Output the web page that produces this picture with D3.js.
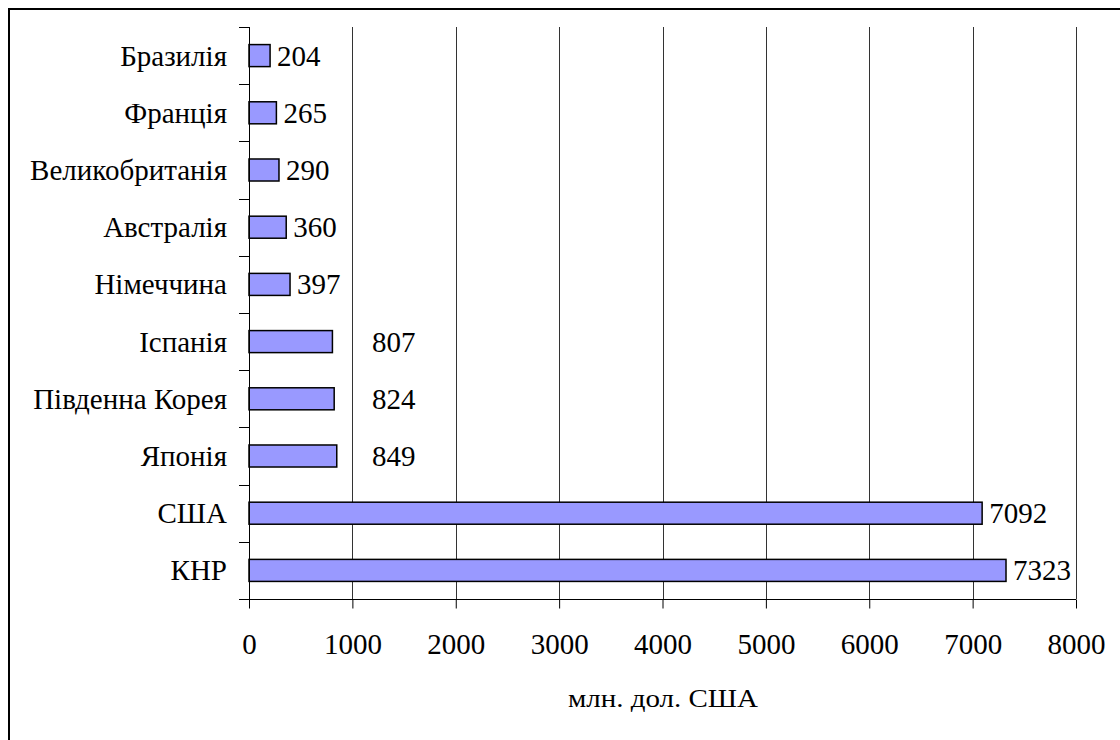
<!DOCTYPE html>
<html><head><meta charset="utf-8">
<script src="https://cdn.jsdelivr.net/npm/d3@7"></script>
</head><body style="margin:0"><svg id="c" width="1120" height="740"></svg>
<script>
const categories = ["Бразилія","Франція","Великобританія","Австралія","Німеччина","Іспанія","Південна Корея","Японія","США","КНР"];
const values = [204,265,290,360,397,807,824,849,7092,7323];
const xTicks = [0,1000,2000,3000,4000,5000,6000,7000,8000];
const xTitle = "млн. дол. США";

const FONT = "Liberation Serif";
const FS = 29;
const svg = d3.select("#c").attr("font-family",FONT);
svg.append("rect").attr("x",9).attr("y",9).attr("width",1130).attr("height",760)
  .attr("fill","none").attr("stroke","#000").attr("stroke-width",2);

const L=249, R=1076, T=27, B=599;
const x = d3.scaleLinear().domain([0,8000]).range([L,R]);
const y = d3.scaleBand().domain(categories).range([T,B]).paddingInner(0.615).paddingOuter(0.3075);
const band = d3.scaleBand().domain(categories).range([T,B]);

// gridlines
svg.append("g").selectAll("line").data(xTicks.slice(1)).join("line")
  .attr("x1",d=>Math.round(x(d))+0.5).attr("x2",d=>Math.round(x(d))+0.5)
  .attr("y1",T).attr("y2",B).attr("stroke","#333").attr("stroke-width",1);

// bars
svg.append("g").selectAll("rect").data(categories).join("rect")
  .attr("x",x(0)).attr("y",(d,i)=>y(d))
  .attr("width",(d,i)=>x(values[i])-x(0)).attr("height",y.bandwidth())
  .attr("fill","#9999ff").attr("stroke","#000").attr("stroke-width",1.5);

// x axis
const xa = svg.append("g").attr("transform",`translate(0,${B+0.5})`)
  .call(d3.axisBottom(x).tickValues(xTicks).tickSize(9).tickPadding(25).tickFormat(d3.format("d")));
xa.attr("font-family",FONT).attr("font-size",FS);
xa.select(".domain").remove();
xa.selectAll(".tick line").attr("stroke","#000");
xa.selectAll("text").attr("fill","#000").attr("font-family",FONT);
svg.append("line").attr("x1",239).attr("x2",R).attr("y1",B+0.5).attr("y2",B+0.5).attr("stroke","#000");

// y axis
svg.append("line").attr("x1",L+0.5).attr("x2",L+0.5).attr("y1",T).attr("y2",B+9).attr("stroke","#000");
const bounds = categories.map(c=>band(c)).concat([B]);
svg.append("g").selectAll("line").data(bounds).join("line")
  .attr("x1",239).attr("x2",L).attr("y1",d=>Math.round(d)+0.5).attr("y2",d=>Math.round(d)+0.5).attr("stroke","#000");
svg.append("g").selectAll("text").data(categories).join("text")
  .attr("x",227).attr("y",d=>band(d)+band.bandwidth()/2+10)
  .attr("text-anchor","end").attr("font-family",FONT).attr("font-size",FS).text(d=>d);

// value labels
svg.append("g").selectAll("text").data(categories).join("text")
  .attr("x",(d,i)=>{const v=values[i]; return (v>=800&&v<1000)? x(1190) : x(v)+7;})
  .attr("y",d=>y(d)+y.bandwidth()/2+10)
  .attr("font-family",FONT).attr("font-size",FS).text((d,i)=>values[i]);

svg.append("text").attr("x",568).attr("y",707)
  .attr("font-family",FONT).attr("font-size",26)
  .attr("textLength",190).attr("lengthAdjust","spacingAndGlyphs").text(xTitle);
</script></body></html>
